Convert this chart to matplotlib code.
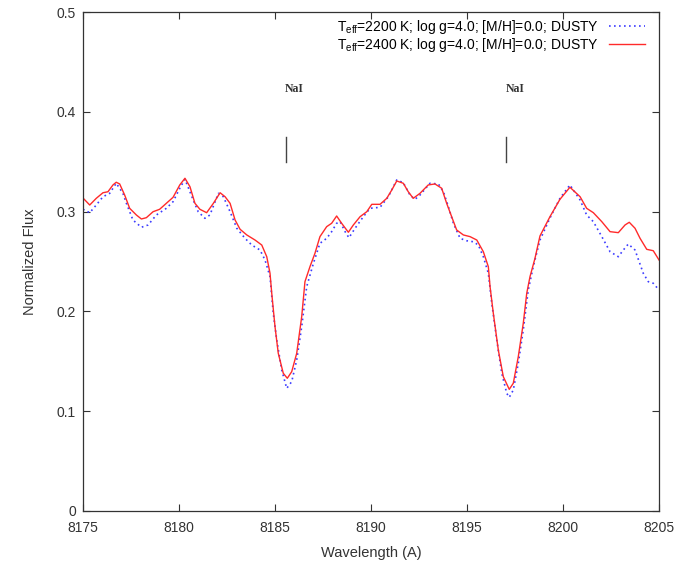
import matplotlib
matplotlib.use("Agg")
import matplotlib.pyplot as plt
from matplotlib.lines import Line2D
import numpy as np

plt.rcParams['font.family'] = ['Liberation Sans', 'DejaVu Sans']
plt.rcParams['mathtext.fontset'] = 'custom'
plt.rcParams['mathtext.rm'] = 'Liberation Sans'

# Teff=2400 K model (solid red)
wl_2400 = [8175.00, 8175.35, 8175.69, 8176.04, 8176.30, 8176.56, 8176.73, 8176.91, 8177.17, 8177.43,
           8177.78, 8178.04, 8178.30, 8178.65, 8178.99, 8179.34, 8179.69, 8180.04, 8180.31, 8180.57,
           8180.83, 8181.09, 8181.44, 8181.79, 8182.14, 8182.40, 8182.66, 8182.92, 8183.18, 8183.53,
           8183.96, 8184.31, 8184.57, 8184.74, 8184.83, 8185.00, 8185.17, 8185.43, 8185.64, 8185.87,
           8186.13, 8186.39, 8186.56, 8186.82, 8187.08, 8187.34, 8187.69, 8187.95, 8188.21, 8188.47,
           8188.82, 8189.08, 8189.43, 8189.78, 8190.04, 8190.47, 8190.82, 8191.08, 8191.34, 8191.68,
           8191.94, 8192.20, 8192.55, 8192.98, 8193.33, 8193.68, 8193.94, 8194.20, 8194.46, 8194.81,
           8195.16, 8195.51, 8195.85, 8196.11, 8196.20, 8196.37, 8196.63, 8196.89, 8197.20, 8197.41,
           8197.67, 8197.93, 8198.11, 8198.28, 8198.54, 8198.80, 8199.32, 8199.67, 8199.84, 8200.36,
           8200.89, 8201.23, 8201.58, 8202.02, 8202.45, 8202.88, 8203.23, 8203.45, 8203.75, 8204.01,
           8204.36, 8204.70, 8205.00]
flux_2400 = [0.3136, 0.3066, 0.3133, 0.3189, 0.3199, 0.3267, 0.3294, 0.3277, 0.3166, 0.3033,
             0.2966, 0.2926, 0.2939, 0.2999, 0.3023, 0.3083, 0.3143, 0.3267, 0.3334, 0.3250,
             0.3083, 0.3023, 0.2989, 0.3083, 0.3189, 0.3149, 0.3083, 0.2916, 0.2823, 0.2766,
             0.2715, 0.2665, 0.2548, 0.2382, 0.2181, 0.1847, 0.1580, 0.1380, 0.1330, 0.1396,
             0.1580, 0.1947, 0.2298, 0.2448, 0.2582, 0.2749, 0.2849, 0.2883, 0.2956, 0.2883,
             0.2793, 0.2866, 0.2949, 0.2999, 0.3073, 0.3073, 0.3133, 0.3216, 0.3307, 0.3284,
             0.3199, 0.3133, 0.3183, 0.3267, 0.3277, 0.3234, 0.3083, 0.2949, 0.2816, 0.2766,
             0.2749, 0.2715, 0.2598, 0.2448, 0.2248, 0.1981, 0.1613, 0.1346, 0.1219, 0.1280,
             0.1546, 0.1881, 0.2181, 0.2348, 0.2532, 0.2756, 0.2949, 0.3066, 0.3123, 0.3244,
             0.3149, 0.3033, 0.2989, 0.2899, 0.2799, 0.2789, 0.2866, 0.2893, 0.2833, 0.2733,
             0.2622, 0.2608, 0.2515]

# Teff=2200 K model (dotted blue)
wl_2200 = [8175.00, 8175.35, 8175.69, 8176.04, 8176.39, 8176.73, 8177.08, 8177.26, 8177.60, 8178.04,
           8178.39, 8178.82, 8179.34, 8179.69, 8180.04, 8180.31, 8180.74, 8181.00, 8181.35, 8181.61,
           8182.05, 8182.31, 8182.66, 8183.01, 8183.44, 8183.79, 8184.22, 8184.48, 8184.74, 8184.91,
           8185.09, 8185.35, 8185.61, 8185.87, 8186.13, 8186.39, 8186.65, 8187.00, 8187.34, 8187.69,
           8187.95, 8188.21, 8188.39, 8188.65, 8188.85, 8189.17, 8189.60, 8189.95, 8190.47, 8190.90,
           8191.34, 8191.68, 8192.03, 8192.29, 8192.55, 8193.07, 8193.51, 8193.77, 8194.03, 8194.29,
           8194.64, 8194.98, 8195.33, 8195.59, 8195.85, 8196.11, 8196.29, 8196.55, 8196.81, 8197.07,
           8197.20, 8197.41, 8197.67, 8197.93, 8198.19, 8198.45, 8198.80, 8199.32, 8199.84, 8200.36,
           8200.89, 8201.23, 8201.58, 8202.02, 8202.45, 8202.88, 8203.14, 8203.40, 8203.75, 8204.18,
           8204.44, 8204.70, 8205.00]
flux_2200 = [0.3023, 0.2989, 0.3066, 0.3149, 0.3183, 0.3284, 0.3183, 0.3083, 0.2916, 0.2843,
             0.2866, 0.2966, 0.3033, 0.3099, 0.3234, 0.3324, 0.3116, 0.2999, 0.2933, 0.2966,
             0.3183, 0.3149, 0.2999, 0.2833, 0.2732, 0.2665, 0.2615, 0.2515, 0.2348, 0.1981,
             0.1713, 0.1413, 0.1229, 0.1296, 0.1513, 0.1847, 0.2248, 0.2482, 0.2682, 0.2732,
             0.2799, 0.2883, 0.2899, 0.2799, 0.2738, 0.2833, 0.2949, 0.3033, 0.3043, 0.3149,
             0.3317, 0.3290, 0.3166, 0.3123, 0.3166, 0.3284, 0.3277, 0.3199, 0.3049, 0.2883,
             0.2732, 0.2708, 0.2698, 0.2665, 0.2548, 0.2382, 0.2081, 0.1713, 0.1380, 0.1179,
             0.1139, 0.1212, 0.1480, 0.1814, 0.2214, 0.2448, 0.2715, 0.2936, 0.3133, 0.3267,
             0.3116, 0.2966, 0.2899, 0.2749, 0.2598, 0.2548, 0.2615, 0.2675, 0.2615, 0.2382,
             0.2298, 0.2282, 0.2214]

label_2200 = r'$\mathrm{T_{eff}}$=2200 K; log g=4.0; [M/H]=0.0; DUSTY'
label_2400 = r'$\mathrm{T_{eff}}$=2400 K; log g=4.0; [M/H]=0.0; DUSTY'

# NaI doublet markers
line_names = ['NaI', 'NaI']
line_wl = [8185.55, 8197.05]

x_ticks = [8175, 8180, 8185, 8190, 8195, 8200, 8205]
y_ticks = [0, 0.1, 0.2, 0.3, 0.4, 0.5]
y_ticklabels = ['0', '0.1', '0.2', '0.3', '0.4', '0.5']

fig = plt.figure(figsize=(6.94, 5.64), dpi=100)
ax = fig.add_axes([0.1196, 0.094, 0.83, 0.8847])

ax.plot(wl_2200, flux_2200, color='#3b3bff', linestyle=(0, (1, 2)), lw=1.2)
ax.plot(wl_2400, flux_2400, color='#ff2a2a', lw=1.0)

for name, w in zip(line_names, line_wl):
    ax.plot([w, w], [0.350, 0.375], color='#444444', lw=1.0)
    ax.text(w - 0.05, 0.423, name, family='Liberation Serif', fontsize=8.5,
            fontweight='bold', color='#333333', ha='left', va='center')

ax.set_xlim(8175, 8205)
ax.set_ylim(0, 0.5)
ax.set_xticks(x_ticks)
ax.set_xticklabels([str(t) for t in x_ticks])
ax.set_yticks(y_ticks)
ax.set_yticklabels(y_ticklabels)
ax.tick_params(direction='in', top=True, right=True, length=5, width=0.8,
               labelsize=10, colors='#333333', pad=5)
ax.tick_params(axis='x', pad=7)
for s in ax.spines.values():
    s.set_color('#333333')
    s.set_linewidth(0.9)

ax.set_xlabel('Wavelength (A)', fontsize=10.5, color='#333333', labelpad=8)
ax.set_ylabel('Normalized Flux', fontsize=10.5, color='#333333', labelpad=14)

handles = [Line2D([], [], color='#3b3bff', linestyle=(0, (1, 2)), lw=1.2),
           Line2D([], [], color='#ff2a2a', lw=1.0)]
ax.legend(handles, [label_2200, label_2400], loc='upper right', frameon=False,
          markerfirst=False, fontsize=10, handlelength=2.6, handletextpad=0.7,
          labelspacing=0.0, borderaxespad=0.0, bbox_to_anchor=(0.985, 1.0))

fig.savefig('out.png', dpi=100)
